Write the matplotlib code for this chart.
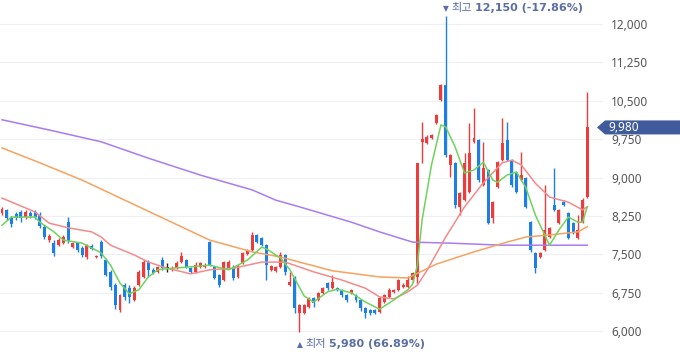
import numpy as np
import matplotlib
matplotlib.use('Agg')
import matplotlib.pyplot as plt
from matplotlib.patches import Polygon

# daily candles (open / high / low / close)
opens = [8310, 8370, 8210, 8290, 8330, 8230, 8310, 8330, 8270, 8040,
         7780, 7720, 7680, 7720, 8130, 7640, 7720, 7630, 7450, 7660,
         7450, 7740, 7390, 7160, 6900, 6410, 6900, 6840, 6610, 6900,
         7060, 7350, 7200, 7160, 7390, 7230, 7200, 7230, 7350, 7390,
         7230, 7160, 7250, 7250, 7740, 7250, 7100, 7000, 7230, 7250,
         7060, 7330, 7510, 7590, 7880, 7820, 7680, 7200, 7180, 7250,
         7490, 6900, 7040, 6360, 6360, 6470, 6650, 6610, 6750, 6940,
         6840, 6840, 6810, 6710, 6750, 6710, 6610, 6450, 6410, 6410,
         6380, 6570, 6670, 6770, 6810, 6860, 6860, 7000, 7060, 9700,
         9680, 9770, 10070, 10520, 10810, 9250, 9290, 8430, 8560, 8720,
         9700, 9730, 8860, 9150, 8210, 8820, 9340, 9730, 9340, 9090,
         8950, 8990, 8130, 7530, 7450, 7590, 7840, 8470, 8110, 8520,
         8310, 8110, 7820, 8130, 8620]
highs = [8430, 8390, 8250, 8330, 8370, 8370, 8350, 8370, 8330, 8070,
         7900, 7780, 7820, 7880, 8230, 7740, 7740, 7660, 7700, 7700,
         7490, 7780, 7430, 7200, 6940, 6730, 6940, 6900, 6880, 7200,
         7390, 7390, 7230, 7270, 7450, 7330, 7270, 7370, 7550, 7410,
         7250, 7350, 7350, 7330, 7760, 7270, 7120, 7370, 7390, 7290,
         7310, 7550, 7610, 7940, 7900, 7840, 7700, 7290, 7270, 7550,
         7510, 7160, 7080, 6530, 6530, 6670, 6670, 6770, 6860, 6960,
         7100, 6860, 6820, 6730, 6820, 6730, 6630, 6470, 6430, 6430,
         6670, 6730, 6840, 6820, 7020, 6940, 7080, 7160, 9280, 10090,
         9830, 9850, 10240, 10830, 12150, 9460, 9300, 8720, 9480, 10070,
         10360, 9750, 9700, 9170, 8540, 9320, 10160, 10090, 9360, 9110,
         9500, 9010, 8150, 7550, 7550, 8860, 8040, 9190, 8390, 8560,
         8330, 8130, 8270, 8600, 10670]
lows = [8270, 8170, 8040, 8170, 8130, 8190, 8210, 8190, 8020, 7800,
        7740, 7470, 7660, 7700, 7720, 7630, 7550, 7450, 7410, 7590,
        7430, 7430, 7080, 6810, 6430, 6380, 6610, 6550, 6590, 6880,
        7040, 7060, 7120, 7140, 7200, 7160, 7180, 7220, 7330, 7230,
        7140, 7140, 7230, 7230, 7270, 7020, 6860, 6980, 7220, 7000,
        7040, 7310, 7490, 7570, 7720, 7660, 7000, 7180, 7160, 7230,
        7100, 6880, 6360, 5980, 6340, 6450, 6470, 6590, 6730, 6810,
        6820, 6790, 6670, 6570, 6730, 6570, 6390, 6260, 6320, 6340,
        6360, 6550, 6650, 6750, 6790, 6840, 6840, 6960, 6940, 9290,
        9660, 9750, 10050, 10500, 9400, 9010, 8410, 8270, 8540, 8700,
        9680, 8910, 8840, 8090, 8110, 8800, 9320, 9320, 8820, 8700,
        8930, 8410, 7550, 7140, 7430, 7570, 7820, 8350, 8090, 8450,
        7800, 7900, 7800, 8110, 8600]
closes = [8390, 8210, 8090, 8210, 8210, 8330, 8250, 8230, 8050, 7840,
          7860, 7530, 7780, 7840, 7760, 7720, 7590, 7490, 7680, 7610,
          7470, 7470, 7100, 6860, 6510, 6710, 6670, 6670, 6840, 7160,
          7350, 7200, 7140, 7250, 7230, 7230, 7230, 7330, 7470, 7250,
          7160, 7290, 7330, 7290, 7290, 7040, 6900, 7350, 7350, 7040,
          7290, 7530, 7570, 7880, 7740, 7680, 7290, 7270, 7250, 7490,
          7160, 6960, 6450, 6510, 6510, 6650, 6550, 6750, 6840, 6840,
          6960, 6810, 6710, 6610, 6810, 6610, 6450, 6360, 6360, 6360,
          6650, 6710, 6810, 6810, 7000, 6900, 7000, 7140, 9280, 9750,
          9790, 9830, 10220, 10810, 9440, 9440, 8470, 8700, 9290, 9480,
          9770, 8950, 9190, 8110, 8520, 9300, 9680, 9340, 8860, 8720,
          9050, 8430, 7590, 7230, 7530, 7980, 8020, 8370, 8370, 8470,
          7820, 7920, 7980, 8560, 9980]

# moving averages, sampled at candle indices
ma5_idx = [0, 2, 7, 8, 11, 13, 17, 21, 23, 25, 27, 29, 31, 33, 36, 39, 44, 48, 50, 52,
           55, 56, 59, 61, 64, 66, 69, 71, 74, 77, 80, 83, 86, 87, 88, 89, 91, 93, 94, 96,
           98, 100, 102, 104, 105, 107, 109, 111, 113, 116, 118, 120, 122, 123, 124]
ma5_val = [8070, 8230, 8230, 8130, 7940, 7780, 7720, 7530, 7290, 6940, 6730, 6810, 7060, 7200, 7230, 7250, 7290, 7200, 7290, 7390,
           7640, 7610, 7430, 7200, 6690, 6570, 6770, 6820, 6750, 6570, 6430, 6610, 6810, 6920, 7290, 8170, 9250, 10030, 9990, 9600,
           9090, 9150, 9300, 8950, 8910, 9050, 9110, 8800, 8270, 7680, 7980, 8230, 8130, 8130, 8430]
ma20_idx = [0, 7, 10, 14, 19, 21, 23, 28, 31, 35, 40, 44, 49, 52, 55, 60, 66, 72, 77, 80,
            83, 86, 88, 90, 94, 98, 102, 106, 108, 110, 113, 116, 120, 123, 124]
ma20_val = [8600, 8330, 8110, 8020, 7940, 7840, 7680, 7490, 7350, 7230, 7120, 7200, 7230, 7290, 7350, 7350, 7160, 7000, 6840, 6670,
            6630, 6770, 6900, 7180, 7840, 8430, 8900, 9290, 9340, 9250, 8890, 8620, 8520, 8370, 8430]
ma60_idx = [0, 8, 17, 26, 35, 44, 53, 59, 63, 70, 80, 86, 92, 100, 107, 111, 116, 122, 124]
ma60_val = [9580, 9290, 8950, 8560, 8170, 7780, 7550, 7450, 7350, 7180, 7060, 7040, 7310, 7550, 7740, 7840, 7880, 7940, 8040]
ma120_idx = [0, 10, 21, 31, 42, 53, 58, 63, 74, 80, 87, 95, 106, 124]
ma120_val = [10130, 9930, 9700, 9380, 9050, 8760, 8560, 8430, 8130, 7940, 7740, 7720, 7680, 7680]

y_ticks = [6000, 6750, 7500, 8250, 9000, 9750, 10500, 11250, 12000]
last_price = 9980
high_idx, high_val, high_pct = 94, 12150, '-17.86%'
low_idx, low_val, low_pct = 63, 5980, '66.89%'

RED = '#ee3b3b'
BLUE = '#1c7fe6'
KR = ['Noto Sans CJK KR', 'DejaVu Sans']

fig = plt.figure(figsize=(6.8, 3.58), dpi=100)
ax = fig.add_axes([0, 0, 603 / 680, 1])

o = np.array(opens); h = np.array(highs); l = np.array(lows); c = np.array(closes)
x = np.arange(len(o))
cols = np.where(c > o, RED, np.where(c < o, BLUE, '#222222'))

ax.vlines(x, l, h, colors=cols, lw=1, zorder=2)
ax.bar(x, np.maximum(np.abs(c - o), 15), bottom=np.minimum(o, c), width=0.62,
       color=cols, lw=0, zorder=2)

ax.plot(ma120_idx, ma120_val, color='#a97bf2', lw=1.1, zorder=3)
ax.plot(ma60_idx, ma60_val, color='#f7a25e', lw=1.1, zorder=3)
ax.plot(ma20_idx, ma20_val, color='#f58a8a', lw=1.1, zorder=3)
ax.plot(ma5_idx, ma5_val, color='#6fd35c', lw=1.1, zorder=3)

ax.set_xlim(-2 / 4.72, 601 / 4.72)
ax.set_ylim(12000 - 334 * 19.53, 12000 + 24 * 19.53)
ax.set_xticks([])
ax.set_yticks(y_ticks)
ax.set_yticklabels([f'{v:,}' for v in y_ticks])
ax.yaxis.tick_right()
ax.tick_params(axis='y', length=0, pad=6, labelsize=8.5, labelcolor='#555555')
for lab in ax.get_yticklabels():
    lab.set_family(['Noto Sans', 'DejaVu Sans'])
ax.grid(axis='y', color='#eef0f6', lw=0.8)
ax.set_axisbelow(True)
for s in ax.spines.values():
    s.set_visible(False)


def marker_label(idx, val, arrow, word, value, pct, dy):
    # small triangle, label word, then bold price chained one after another
    kw = dict(va='center', ha='left', color='#5a6ea6', annotation_clip=False)
    t1 = ax.annotate(arrow, xy=(idx, val), xytext=(-2, dy), textcoords='offset points',
                     fontsize=5.5, family=['DejaVu Sans'], **kw)
    t2 = ax.annotate(word, xy=(1, 0.5), xycoords=t1, xytext=(2, 0.3), textcoords='offset points',
                     fontsize=8, family=KR, **kw)
    ax.annotate(f'{value:,} ({pct})', xy=(1, 0.5), xycoords=t2, xytext=(2, -0.3),
                textcoords='offset points', fontsize=8, fontweight='bold',
                family=['DejaVu Sans'], **kw)


marker_label(high_idx, high_val, '▼', '최고', high_val, high_pct, 5.8)
marker_label(low_idx, low_val, '▲', '최저', low_val, low_pct, -8.6)

# current price tag
yp = 24 + (12000 - last_price) / 19.53
pts = [(597, yp), (605, yp - 7), (680, yp - 7), (680, yp + 7), (605, yp + 7)]
tag = Polygon([(px / 680, 1 - py / 358) for px, py in pts], closed=True,
              transform=fig.transFigure, facecolor='#3f5b9b', edgecolor='none', zorder=5)
fig.add_artist(tag)
fig.text(608 / 680, 1 - yp / 358, f'{last_price:,}', color='white', fontsize=8.5,
         va='center', ha='left', family=['Noto Sans', 'DejaVu Sans'], zorder=6)

fig.savefig('out.png', dpi=100)
